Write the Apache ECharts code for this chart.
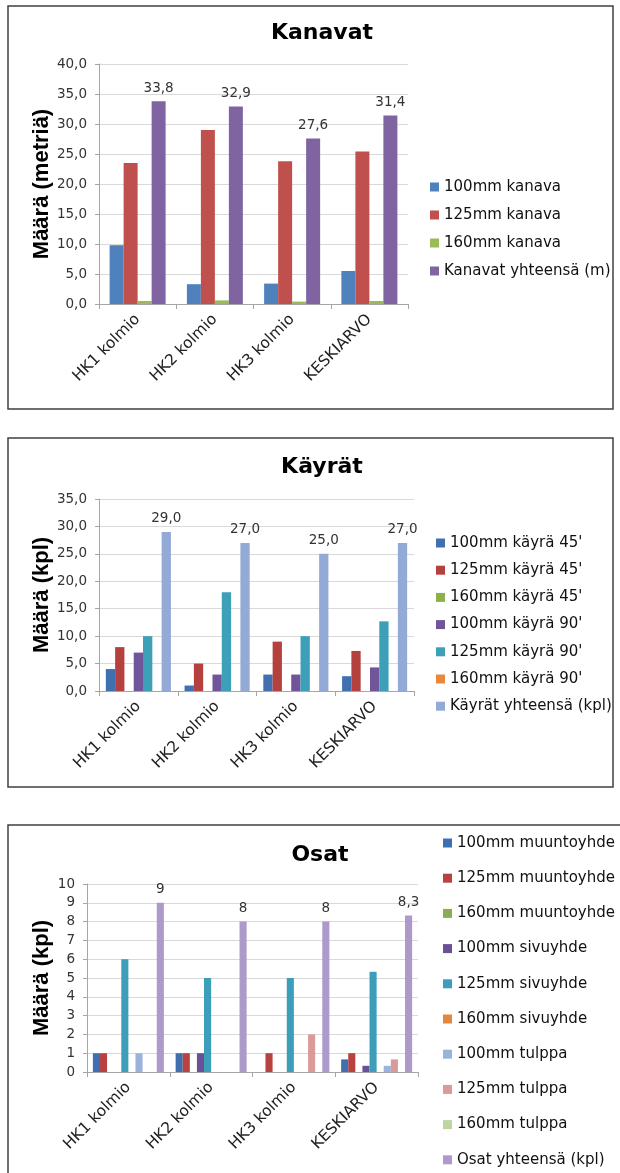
<!DOCTYPE html>
<html>
<head>
<meta charset="utf-8">
<script src="https://cdn.jsdelivr.net/npm/echarts@6/dist/echarts.min.js"></script>
<style>
  html, body { margin: 0; padding: 0; background: #ffffff; }
  #main { width: 620px; height: 1173px; }
</style>
</head>
<body>
<div id="main"></div>
<script>
// ---- Data ----------------------------------------------------------
const categories = ['HK1 kolmio', 'HK2 kolmio', 'HK3 kolmio', 'KESKIARVO'];

// Kanavat (metriä)
const kanavatNames = ['100mm kanava', '125mm kanava', '160mm kanava', 'Kanavat yhteensä (m)'];
const kanava100 = [9.8, 3.3, 3.4, 5.5];
const kanava125 = [23.5, 29.0, 23.8, 25.4];
const kanava160 = [0.5, 0.6, 0.4, 0.5];
const kanavatYht = [33.8, 32.9, 27.6, 31.4];
const kanavatTicks = [0, 5, 10, 15, 20, 25, 30, 35, 40];

// Käyrät (kpl)
const kayratNames = ["100mm käyrä 45'", "125mm käyrä 45'", "160mm käyrä 45'",
  "100mm käyrä 90'", "125mm käyrä 90'", "160mm käyrä 90'", 'Käyrät yhteensä (kpl)'];
const kayra100_45 = [4, 1, 3, 2.7];
const kayra125_45 = [8, 5, 9, 7.3];
const kayra160_45 = [0, 0, 0, 0];
const kayra100_90 = [7, 3, 3, 4.3];
const kayra125_90 = [10, 18, 10, 12.7];
const kayra160_90 = [0, 0, 0, 0];
const kayratYht = [29, 27, 25, 27];
const kayratTicks = [0, 5, 10, 15, 20, 25, 30, 35];

// Osat (kpl)
const osatNames = ['100mm muuntoyhde', '125mm muuntoyhde', '160mm muuntoyhde',
  '100mm sivuyhde', '125mm sivuyhde', '160mm sivuyhde',
  '100mm tulppa', '125mm tulppa', '160mm tulppa', 'Osat yhteensä (kpl)'];
const muunto100 = [1, 1, 0, 0.67];
const muunto125 = [1, 1, 1, 1];
const muunto160 = [0, 0, 0, 0];
const sivu100 = [0, 1, 0, 0.33];
const sivu125 = [6, 5, 5, 5.33];
const sivu160 = [0, 0, 0, 0];
const tulppa100 = [1, 0, 0, 0.33];
const tulppa125 = [0, 0, 2, 0.67];
const tulppa160 = [0, 0, 0, 0];
const osatYht = [9, 8, 8, 8.33];
const osatTicks = [0, 1, 2, 3, 4, 5, 6, 7, 8, 9, 10];

// ---- Formatting ----------------------------------------------------
const FONT = '"DejaVu Sans", "Liberation Sans", sans-serif';
const NAME_FONT = '"Liberation Sans", Arial, sans-serif';
const fmtFixed = v => Number(v).toFixed(1).replace('.', ',');
const fmtGeneral = v => String(Math.round(v * 10) / 10).replace('.', ',');

// ---- Panels --------------------------------------------------------
const panels = [
  {
    title: 'Kanavat', titleX: 322, titleY: 33,
    yName: 'Määrä (metriä)',
    box: [8, 6, 605, 403],
    grid: { left: 99, top: 64, width: 309, height: 240 },
    ticks: kanavatTicks, labelFmt: fmtFixed, valueFmt: fmtFixed,
    barWidth: 14,
    legend: { left: 430, top: 179, gap: 12 },
    names: kanavatNames,
    values: [kanava100, kanava125, kanava160, kanavatYht],
    colors: ['#4F81BD', '#C0504D', '#9BBB59', '#8064A2']
  },
  {
    title: 'Käyrät', titleX: 322, titleY: 467,
    yName: 'Määrä (kpl)',
    box: [8, 438, 605, 349],
    grid: { left: 99, top: 499, width: 315, height: 192 },
    ticks: kayratTicks, labelFmt: fmtFixed, valueFmt: fmtFixed,
    barWidth: 9.3,
    legend: { left: 436, top: 535, gap: 11.2 },
    names: kayratNames,
    values: [kayra100_45, kayra125_45, kayra160_45, kayra100_90, kayra125_90, kayra160_90, kayratYht],
    colors: ['#4170B0', '#B5413F', '#8DB04C', '#71559B', '#3D9FB8', '#E8883A', '#94AAD6']
  },
  {
    title: 'Osat', titleX: 320, titleY: 855,
    yName: 'Määrä (kpl)',
    box: [8, 825, 640, 400],
    grid: { left: 87, top: 884, width: 331, height: 188 },
    ticks: osatTicks, labelFmt: v => String(v), valueFmt: fmtGeneral,
    barWidth: 7.1,
    legend: { left: 443, top: 835, gap: 19.2 },
    names: osatNames,
    values: [muunto100, muunto125, muunto160, sivu100, sivu125, sivu160, tulppa100, tulppa125, tulppa160, osatYht],
    colors: ['#3F6FB0', '#B84240', '#8AAE4F', '#6B4F97', '#3C9EB9', '#E4873E', '#9AB3DC', '#DB9997', '#C0D59B', '#AD99CA']
  }
];

const grids = [], xAxes = [], yAxes = [], series = [], legends = [], graphics = [];

panels.forEach((p, i) => {
  const tickStep = p.ticks[1] - p.ticks[0];
  grids.push(Object.assign({ containLabel: false, outerBoundsMode: 'none' }, p.grid));

  xAxes.push({
    gridIndex: i, type: 'category', data: categories,
    axisLine: { show: true, lineStyle: { color: '#A6A6A6', width: 1 } },
    axisTick: { show: true, length: 5, lineStyle: { color: '#A6A6A6' } },
    axisLabel: { rotate: 45, margin: 13, fontFamily: FONT, fontSize: 15.5, color: '#222222' },
    splitLine: { show: false }
  });

  yAxes.push({
    gridIndex: i, type: 'value',
    min: p.ticks[0], max: p.ticks[p.ticks.length - 1], interval: tickStep,
    axisLine: { show: true, lineStyle: { color: '#A6A6A6', width: 1 } },
    axisTick: { show: true, length: 4, lineStyle: { color: '#A6A6A6' } },
    splitLine: { show: true, lineStyle: { color: '#D9D9D9', width: 1 } },
    axisLabel: { margin: 12, fontFamily: FONT, fontSize: 13.5, color: '#333333', formatter: p.labelFmt }
  });

  const last = p.names.length - 1;
  p.names.forEach((name, k) => {
    series.push({
      type: 'bar', name, xAxisIndex: i, yAxisIndex: i,
      data: p.values[k],
      barWidth: p.barWidth, barGap: '0%',
      itemStyle: { color: p.colors[k] },
      label: k === last ? {
        show: true, position: 'top', distance: 6,
        fontFamily: FONT, fontSize: 13.5, color: '#333333',
        formatter: prm => p.valueFmt(prm.value)
      } : { show: false },
      emphasis: { disabled: true },
      animation: false
    });
  });

  legends.push({
    orient: 'vertical', left: p.legend.left, top: p.legend.top, padding: 0,
    itemWidth: 9, itemHeight: 9, itemGap: p.legend.gap, icon: 'rect',
    data: p.names, selectedMode: false,
    textStyle: { fontFamily: FONT, fontSize: 15, color: '#111111', lineHeight: 16 }
  });

  // chart frame
  graphics.push({
    type: 'rect', z: -10, silent: true,
    shape: { x: p.box[0], y: p.box[1], width: p.box[2], height: p.box[3] },
    style: { fill: 'none', stroke: '#404040', lineWidth: 1.5 }
  });
  // chart title
  graphics.push({
    type: 'text', x: p.titleX, y: p.titleY, silent: true,
    style: { text: p.title, font: 'bold 22px ' + FONT, fill: '#000000',
      align: 'center', verticalAlign: 'middle', textAlign: 'center', textVerticalAlign: 'middle' }
  });
  // value axis title
  graphics.push({
    type: 'text', x: 42, y: p.grid.top + p.grid.height / 2, rotation: Math.PI / 2, silent: true,
    style: { text: p.yName, font: 'bold 22px ' + NAME_FONT, fill: '#000000',
      align: 'center', verticalAlign: 'middle', textAlign: 'center', textVerticalAlign: 'middle' }
  });
});

const chart = echarts.init(document.getElementById('main'), null, { renderer: 'canvas' });
chart.setOption({
  animation: false,
  backgroundColor: '#ffffff',
  grid: grids, xAxis: xAxes, yAxis: yAxes,
  legend: legends, series,
  graphic: graphics
});
</script>
</body>
</html>
